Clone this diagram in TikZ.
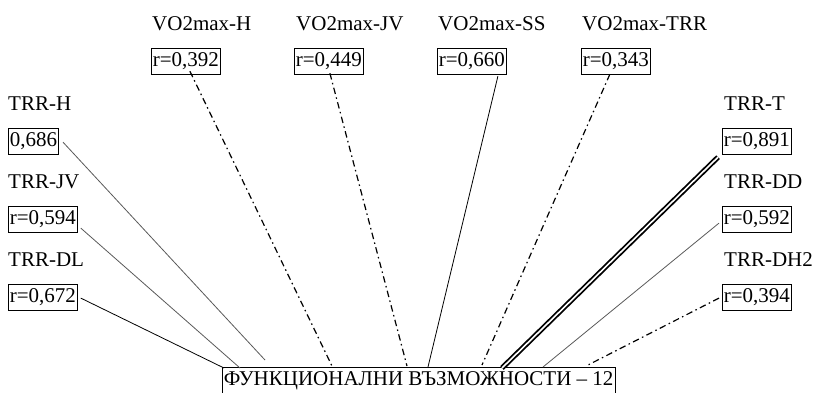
\documentclass[tikz,border=0pt]{standalone}
\usepackage{fontspec}
\setmainfont{Liberation Serif}
\usetikzlibrary{calc}
\begin{document}
\begin{tikzpicture}[x=1pt,y=-1pt,
  lbl/.style={anchor=base west,inner sep=0pt,font=\fontsize{21}{25}\selectfont},
  rbox/.style={draw,line width=0.7pt,anchor=north west,inner xsep=1.5pt,inner ysep=3pt,
    text height=15pt,text depth=4.5pt,font=\fontsize{21}{25}\selectfont},
  thinlink/.style={black!65,line width=0.8pt},
  solidlink/.style={black,line width=0.8pt},
  dotdash/.style={black,line width=1.2pt,dash pattern=on 6.5pt off 3.5pt on 1.5pt off 3.5pt},
  doublelink/.style={black,line width=1.8pt,double=white,double distance=1.6pt}
]
\useasboundingbox (0,0) rectangle (817,392);

% top row
\node[lbl] (lVH)  at (152,30) {VO2max-H};
\node[lbl] (lVJV) at (296,30) {VO2max-JV};
\node[lbl] (lVSS) at (438,30) {VO2max-SS};
\node[lbl] (lVT)  at (582,30) {VO2max-TRR};
\node[rbox] (bVH)  at (151,48) {r=0,392};
\node[rbox] (bVJV) at (294,48) {r=0,449};
\node[rbox] (bVSS) at (437,48) {r=0,660};
\node[rbox] (bVT)  at (581,48) {r=0,343};

% left column
\node[lbl] (lH)  at (8,110) {TRR-H};
\node[lbl] (lJV) at (8,188) {TRR-JV};
\node[lbl] (lDL) at (8,266) {TRR-DL};
\node[rbox] (bH)  at (8,128) {0,686};
\node[rbox] (bJV) at (8,206) {r=0,594};
\node[rbox] (bDL) at (8,284) {r=0,672};

% right column
\node[lbl] (lT)   at (724,110) {TRR-T};
\node[lbl] (lDD)  at (724,188) {TRR-DD};
\node[lbl] (lDH2) at (724,266) {TRR-DH2};
\node[rbox] (bT)   at (722,128) {r=0,891};
\node[rbox] (bDD)  at (722,206) {r=0,592};
\node[rbox] (bDH2) at (722,284) {r=0,394};

% central box
\node[rbox] (fv) at (222,367) {ФУНКЦИОНАЛНИ ВЪЗМОЖНОСТИ – 12};

% end points near the central box
\coordinate (eH)   at (265,360);
\coordinate (eJV)  at (240,368);
\coordinate (eDL)  at (224,368);
\coordinate (eVH)  at (332,366);
\coordinate (eVJV) at (407,366);
\coordinate (eVSS) at (428,367);
\coordinate (eVT)  at (482,365);
\coordinate (eT)   at (502,368);
\coordinate (eDD)  at (543,367);
\coordinate (eDH2) at (588,365);

% connectors
\draw[thinlink] ($(bH.east)+(4,1)$) -- (eH);
\draw[thinlink] ($(bJV.east)+(3,9)$) -- (eJV);
\draw[solidlink] ($(bDL.east)+(3,1)$) -- (eDL);
\draw[dotdash] ($(bVH.south)+(4,-3)$) -- (eVH);
\draw[dotdash] ($(bVJV.south)+(1,-1)$) -- (eVJV);
\draw[solidlink] ($(bVSS.south)+(26,2)$) -- (eVSS);
\draw[dotdash] ($(bVT.south)+(-6,0)$) -- (eVT);
\draw[doublelink] ($(bT.south west)+(-4,3)$) -- (eT);
\draw[thinlink] ($(bDD.west)+(-3,4)$) -- (eDD);
\draw[dotdash] ($(bDH2.west)+(-3,1)$) -- (eDH2);
\end{tikzpicture}
\end{document}
